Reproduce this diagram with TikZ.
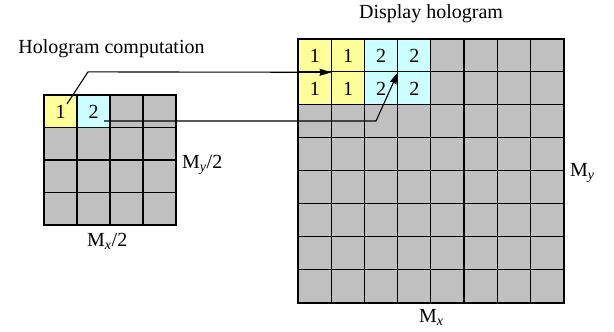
\documentclass[tikz,border=0pt]{standalone}
\usepackage{fontspec}
\setmainfont{Liberation Serif}
\usetikzlibrary{arrows.meta}
\definecolor{cgray}{HTML}{C0C0C0}
\definecolor{cyel}{HTML}{FFFF99}
\definecolor{ccyan}{HTML}{CCFFFF}
\begin{document}
\begin{tikzpicture}[x=1pt,y=-1pt,
  font=\fontsize{20}{24}\selectfont,
  lcell/.style={minimum width=33.2pt, minimum height=32.9pt, inner sep=0pt, anchor=north west},
  scell/.style={minimum width=33pt, minimum height=32.5pt, inner sep=0pt, anchor=north west},
  gridline/.style={draw=black, line width=1.1pt},
  frame/.style={draw=black, line width=2pt},
  arrowline/.style={draw=black, line width=1.1pt, -{Stealth[length=12pt,width=7pt,inset=1pt]}},
  lbl/.style={anchor=base west, inner sep=0pt}]
\useasboundingbox (0,0) rectangle (614,332);
% large grid
\foreach \r in {0,...,7}{\foreach \c in {0,...,7}{
  \def\fc{cgray}\def\tx{}
  \ifnum\r<2 \ifnum\c<2 \def\fc{cyel}\def\tx{1}\else\ifnum\c<4 \def\fc{ccyan}\def\tx{2}\fi\fi\fi
  \node[lcell, fill=\fc] (L-\r-\c) at ({298+33.2*\c},{39+32.9*\r}) {\tx};
}}
\foreach \c in {1,...,7}{\draw[gridline] (L-0-\c.north west) -- (L-7-\c.south west);}
\foreach \r in {1,...,7}{\draw[gridline] (L-\r-0.north west) -- (L-\r-7.north east);}
\draw[frame] (L-0-0.north west) rectangle (L-7-7.south east);
% small grid
\foreach \r in {0,...,3}{\foreach \c in {0,...,3}{
  \def\fc{cgray}\def\tx{}
  \ifnum\r=0 \ifnum\c=0 \def\fc{cyel}\def\tx{1}\fi\ifnum\c=1 \def\fc{ccyan}\def\tx{2}\fi\fi
  \node[scell, fill=\fc] (s-\r-\c) at ({44+33*\c},{95+32.5*\r}) {\tx};
}}
\foreach \c in {1,...,3}{\draw[gridline] (s-0-\c.north west) -- (s-3-\c.south west);}
\foreach \r in {1,...,3}{\draw[gridline] (s-\r-0.north west) -- (s-\r-3.north east);}
\draw[frame] (s-0-0.north west) rectangle (s-3-3.south east);
% arrows
\coordinate (a1s) at (67,104);
\coordinate (b1) at (88,71.9);
\draw[arrowline] (a1s) -- (b1) -- (L-0-0.south east);
\coordinate (a2s) at (104,121);
\coordinate (b2) at (376,121);
\draw[arrowline] (a2s) -- (b2) -- (L-0-2.south east);
% labels
\node[anchor=base] (t1) at (111.5,53) {Hologram computation};
\node[anchor=base] (t2) at (431,19) {Display hologram};
\node[lbl] (my2) at (182,168) {M\textsubscript{\textit{y}}/2};
\node[lbl] (mx2) at (87,246) {M\textsubscript{\textit{x}}/2};
\node[lbl] (my) at (570,176) {M\textsubscript{\textit{y}}};
\node[lbl] (mx) at (419,322) {M\textsubscript{\textit{x}}};
\end{tikzpicture}
\end{document}
